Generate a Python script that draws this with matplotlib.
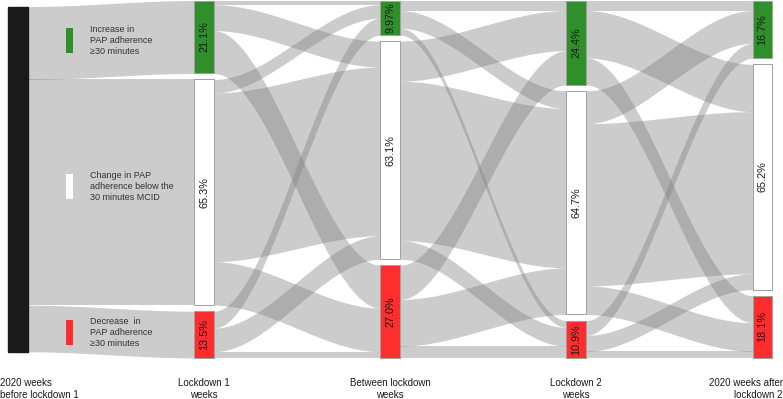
import numpy as np
import matplotlib
matplotlib.use("Agg")
import matplotlib.pyplot as plt
from matplotlib.patches import Rectangle

plt.rcParams['font.family'] = ['Liberation Sans', 'DejaVu Sans']

# Periods (x axis) and PAP adherence categories
periods = ["2020 weeks\nbefore lockdown 1", "Lockdown 1\nweeks",
           "Between lockdown\nweeks", "Lockdown 2\nweeks",
           "2020 weeks after\nlockdown 2"]
categories = ["Increase in\nPAP adherence\n\u226530 minutes",
              "Change in PAP\nadherence below the\n30 minutes MCID",
              "Decrease  in\nPAP adherence\n\u226530 minutes"]
cat_colors = ["#2f8f2a", "#ffffff", "#ff2e2e"]

# % of patients moving from the baseline to each category in lockdown 1
flows_0_1 = [21.1, 65.3, 13.5]

# transitions (rows = from increase/below/decrease, cols = to increase/below/decrease)
flows_1_2 = [[1.2, 7.5, 12.4],
             [3.9, 48.8, 12.6],
             [4.9, 6.8, 1.8]]
flows_2_3 = [[2.9, 5.1, 2.0],
             [11.6, 46.1, 5.4],
             [9.9, 13.5, 3.4]]
flows_3_4 = [[2.9, 13.7, 7.8],
             [9.5, 46.9, 8.3],
             [4.3, 4.6, 1.9]]

# stratum labels
pct_labels = [["21.1%", "65.3%", "13.5%"],
              ["9.97%", "63.1%", "27.0%"],
              ["24.4%", "64.7%", "10.9%"],
              ["16.7%", "65.2%", "18.1%"]]

gap = 1.75
w = 0.105


def tops(sizes):
    out, cur = [], 0.0
    for s in sizes:
        out.append(cur)
        cur += s + gap
    return out


def band(ax, x0, x1, a0, a1, b0, b1):
    x = np.linspace(x0, x1, 120)
    u = (x - x0) / (x1 - x0)
    s = 3 * u**2 - 2 * u**3
    top = a0 + (b0 - a0) * s
    bot = a1 + (b1 - a1) * s
    ax.fill_between(x, top, bot, color="#808080", alpha=0.4, lw=0, zorder=1)


fig = plt.figure(figsize=(7.83, 3.99), dpi=100)
ax = fig.add_axes([0, 0, 1, 1])
ax.set_xlim(-0.0967, 4.111)
ax.set_ylim(115.3, -0.15)
ax.axis("off")

transitions = [flows_1_2, flows_2_3, flows_3_4]
sizes = [list(flows_0_1)]
for m in transitions:
    sizes.append(list(np.array(m).sum(axis=0)))

# column 0: a single stratum
col1_total = sum(sizes[0]) + 2 * gap
base = sum(flows_0_1)
base_top = (col1_total - base) / 2
ax.add_patch(Rectangle((0 - w / 2, base_top), w, base, facecolor="#1a1a1a",
                       edgecolor="#1a1a1a", zorder=3))

# flows baseline -> lockdown 1
cur = base_top
t1 = tops(sizes[0])
for j, v in enumerate(flows_0_1):
    band(ax, w / 2, 1 - w / 2, cur, cur + v, t1[j], t1[j] + v)
    cur += v

# flows between the other periods
for k, m in enumerate(transitions):
    m = np.array(m)
    src_t = tops(sizes[k])
    tgt_t = tops(sizes[k + 1])
    tgt_cur = list(tgt_t)
    for i in range(3):
        cur = src_t[i]
        for j in range(3):
            v = m[i, j]
            band(ax, k + 1 + w / 2, k + 2 - w / 2, cur, cur + v,
                 tgt_cur[j], tgt_cur[j] + v)
            cur += v
            tgt_cur[j] += v

# strata
for c in range(4):
    tt = tops(sizes[c])
    for j in range(3):
        ax.add_patch(Rectangle((c + 1 - w / 2, tt[j]), w, sizes[c][j],
                               facecolor=cat_colors[j], edgecolor="#a0a0a0",
                               lw=0.7, zorder=3))
        ax.text(c + 1, tt[j] + sizes[c][j] / 2, pct_labels[c][j], rotation=90,
                ha="center", va="center", fontsize=7.8, color="#1a1a1a",
                zorder=4)

# legend inside the first band
leg_y = [11.6, 53.8, 96.1]
for j in range(3):
    ax.add_patch(Rectangle((0.258, leg_y[j] - 3.7), 0.038, 7.4,
                           facecolor=cat_colors[j], edgecolor="none", zorder=4))
    ax.text(0.387, leg_y[j], categories[j], ha="left", va="center",
            fontsize=6.5, color="#333333", linespacing=1.25, zorder=4)

# period labels
for i, p in enumerate(periods):
    if i == 0:
        ax.text(-0.0967, 112.4, p, ha="left", va="center", fontsize=7,
                color="#1a1a1a", multialignment="left")
    elif i == 4:
        ax.text(4.111, 112.4, p, ha="right", va="center", fontsize=7,
                color="#1a1a1a", multialignment="right")
    else:
        ax.text(i, 112.4, p, ha="center", va="center", fontsize=7,
                color="#1a1a1a", multialignment="center")

fig.savefig("out.png", dpi=100)
